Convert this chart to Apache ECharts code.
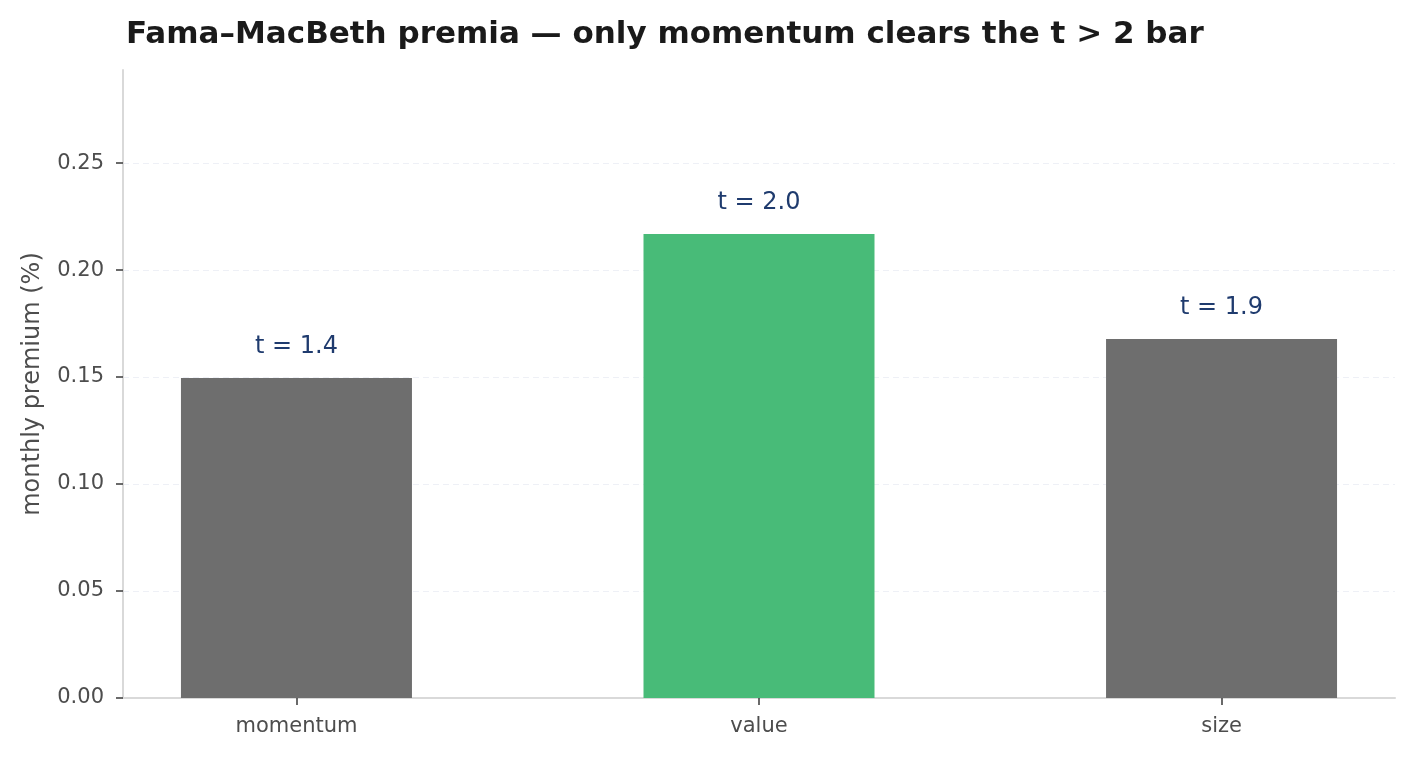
<!DOCTYPE html>
<html><head><meta charset="utf-8">
<script src="https://cdn.jsdelivr.net/npm/echarts@6/dist/echarts.min.js"></script>
<style>html,body{margin:0;padding:0;background:#fff}#c{width:1415px;height:759px}</style>
</head><body><div id="c"></div>
<script>
const categories = ['momentum', 'value', 'size'];
const premia = [0.1495, 0.2168, 0.1678];
const tStats = ['t = 1.4', 't = 2.0', 't = 1.9'];
const barColors = ['#6e6e6e', '#48bb78', '#6e6e6e'];
const yTicks = [0, 0.05, 0.10, 0.15, 0.20, 0.25];

const chart = echarts.init(document.getElementById('c'), null, {renderer: 'canvas'});
const FONT = '"DejaVu Sans", sans-serif';
chart.setOption({
  animation: false,
  backgroundColor: '#fff',
  textStyle: {fontFamily: FONT},
  title: {
    text: 'Fama–MacBeth premia — only momentum clears the t > 2 bar',
    left: 121, top: 14,
    textStyle: {fontFamily: FONT, fontWeight: 'bold', fontSize: 31, color: '#1a1a1a'}
  },
  grid: {left: 123, right: 20, top: 70, bottom: 61},
  xAxis: {
    type: 'value', min: -0.375, max: 2.375,
    axisLine: {show: true, onZero: false, lineStyle: {color: '#d9d9d9', width: 2}},
    axisTick: {show: true, customValues: [0, 1, 2], length: 7, lineStyle: {color: '#444', width: 1.6}},
    axisLabel: {customValues: [0, 1, 2], formatter: v => categories[Math.round(v)], color: '#4d4d4d', fontSize: 21, margin: 18, fontFamily: FONT},
    splitLine: {show: false}
  },
  yAxis: {
    type: 'value', min: 0, max: 0.2935,
    name: 'monthly premium (%)', nameLocation: 'middle', nameGap: 78,
    nameTextStyle: {color: '#4d4d4d', fontSize: 24, fontFamily: FONT},
    axisLine: {show: true, onZero: false, lineStyle: {color: '#d9d9d9', width: 2}},
    axisTick: {show: true, customValues: yTicks, length: 7, lineStyle: {color: '#444', width: 1.6}},
    axisLabel: {customValues: yTicks, formatter: v => v.toFixed(2), color: '#4d4d4d', fontSize: 21, margin: 19, fontFamily: FONT},
    splitLine: {show: true, customValues: yTicks, lineStyle: {color: '#eef0f6', type: [6, 4], width: 1}}
  },
  series: [{
    type: 'bar',
    barWidth: 231,
    data: premia.map((v, i) => ({value: [i, v], itemStyle: {color: barColors[i]},
      label: {show: true, position: 'top', distance: 19, formatter: tStats[i], color: '#1f3b6e', fontSize: 24, fontFamily: FONT}})),
  }]
});
</script></body></html>
